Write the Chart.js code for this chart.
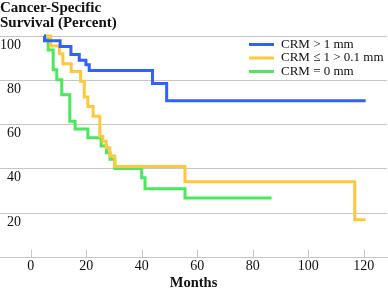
<!DOCTYPE html>
<html>
<head>
<meta charset="utf-8">
<script src="https://cdn.jsdelivr.net/npm/chart.js@4.4.1/dist/chart.umd.min.js"></script>
<style>
  html, body { margin: 0; padding: 0; background: #fff; }
</style>
</head>
<body>
<canvas id="myChart" width="388" height="293"></canvas>
<script>
// Kaplan-Meier curves (months, percent surviving)
const blueMonths   = [4.8, 5.0, 10.6, 14.5, 17.5, 19.9, 21.1, 43.9, 49.0, 120.7];
const blueSurvival = [100, 97.8, 95.3, 91.6, 89.1, 87.0, 84.4, 78.5, 70.7, 70.7];

const yellowMonths   = [4.8, 7.2, 10.4, 11.6, 14.6, 18.0, 19.3, 20.6, 22.5, 24.9, 26.0, 27.2, 28.5, 30.3, 55.6, 116.8, 120.7];
const yellowSurvival = [100, 95.5, 92.0, 87.5, 84.0, 79.6, 72.5, 68.2, 63.7, 54.7, 52.5, 49.5, 45.8, 41.0, 34.2, 17.0, 17.0];

const greenMonths   = [4.8, 5.0, 6.3, 8.1, 9.4, 11.2, 14.1, 16.0, 20.6, 25.4, 27.3, 28.6, 30.3, 40.0, 41.2, 55.6, 86.8];
const greenSurvival = [100, 98.5, 93.7, 84.7, 80.2, 73.5, 61.5, 58.0, 54.0, 50.3, 47.3, 44.3, 40.1, 36.0, 31.0, 26.8, 26.8];

const seriesLabels = ['CRM > 1 mm', 'CRM \u2264 1 > 0.1 mm', 'CRM = 0 mm'];
const xTicks = [0, 20, 40, 60, 80, 100, 120];
const yTicks = [20, 40, 60, 80, 100];

const toPoints = (xs, ys) => xs.map((x, i) => ({x: x, y: ys[i]}));

const gridColor = '#c6c6c6';
const serif = 'Liberation Serif';

// small tick marks pointing up into the plot
const innerTicks = {
    id: 'innerTicks',
    beforeDatasetsDraw(chart) {
        const {ctx, chartArea, scales: {x}} = chart;
        ctx.save();
        ctx.strokeStyle = gridColor;
        ctx.lineWidth = 1;
        x.ticks.forEach(t => {
            const px = Math.round(x.getPixelForValue(t.value)) + 0.5;
            ctx.beginPath();
            ctx.moveTo(px, chartArea.bottom);
            ctx.lineTo(px, chartArea.bottom - 7.5);
            ctx.stroke();
        });
        ctx.restore();
    }
};

// legend drawn inside the plot, top right
const insideLegend = {
    id: 'insideLegend',
    afterDraw(chart) {
        const ctx = chart.ctx;
        ctx.save();
        ctx.font = '13px "' + serif + '"';
        ctx.textBaseline = 'middle';
        chart.data.datasets.forEach((ds, i) => {
            const y = 44.5 + i * 13.5;
            ctx.strokeStyle = ds.borderColor;
            ctx.lineWidth = 3;
            ctx.beginPath();
            ctx.moveTo(249, y);
            ctx.lineTo(274, y);
            ctx.stroke();
            ctx.fillStyle = '#111';
            ctx.fillText(ds.label, 281, y);
        });
        ctx.restore();
    }
};

const lineStyle = {
    stepped: 'before',
    pointRadius: 0,
    borderWidth: 3,
    fill: false,
    clip: false
};

const ctx = document.getElementById('myChart').getContext('2d');
const myChart = new Chart(ctx, {
    type: 'line',
    data: {
        datasets: [
            Object.assign({label: seriesLabels[0], data: toPoints(blueMonths, blueSurvival), borderColor: '#2f62f6'}, lineStyle),
            Object.assign({label: seriesLabels[1], data: toPoints(yellowMonths, yellowSurvival), borderColor: '#ffc73c'}, lineStyle),
            Object.assign({label: seriesLabels[2], data: toPoints(greenMonths, greenSurvival), borderColor: '#4ae85c'}, lineStyle)
        ]
    },
    plugins: [innerTicks, insideLegend],
    options: {
        responsive: false,
        animation: false,
        layout: { padding: { left: 0, right: 1, top: 0, bottom: 0 } },
        plugins: {
            legend: { display: false },
            tooltip: { enabled: false },
            title: {
                display: true,
                text: ['Cancer-Specific', 'Survival (Percent)'],
                align: 'start',
                color: '#111',
                font: { family: serif, size: 15, weight: 'bold', lineHeight: 1.0 },
                padding: { top: 0.75, bottom: 5.25 }
            }
        },
        scales: {
            x: {
                type: 'linear',
                min: -11.06,
                max: 128.4,
                afterBuildTicks: s => { s.ticks = xTicks.map(v => ({value: v})); },
                grid: { display: false, drawTicks: false },
                border: { display: true, color: gridColor, width: 1 },
                ticks: {
                    color: '#111',
                    font: { family: serif, size: 14, lineHeight: 1.1 },
                    padding: 1.1,
                    maxRotation: 0,
                    autoSkip: false
                },
                title: {
                    display: true,
                    text: 'Months',
                    color: '#111',
                    font: { family: serif, size: 14.5, weight: 'bold', lineHeight: 1.15 },
                    padding: { top: 0, bottom: 1.35 }
                }
            },
            y: {
                min: 0,
                max: 100,
                afterBuildTicks: s => { s.ticks = yTicks.map(v => ({value: v})); },
                grid: { color: gridColor, drawTicks: false },
                border: { display: false },
                ticks: {
                    mirror: true,
                    crossAlign: 'far',
                    padding: 0,
                    labelOffset: 9,
                    color: '#111',
                    font: { family: serif, size: 14 }
                }
            }
        }
    }
});
</script>
</body>
</html>
